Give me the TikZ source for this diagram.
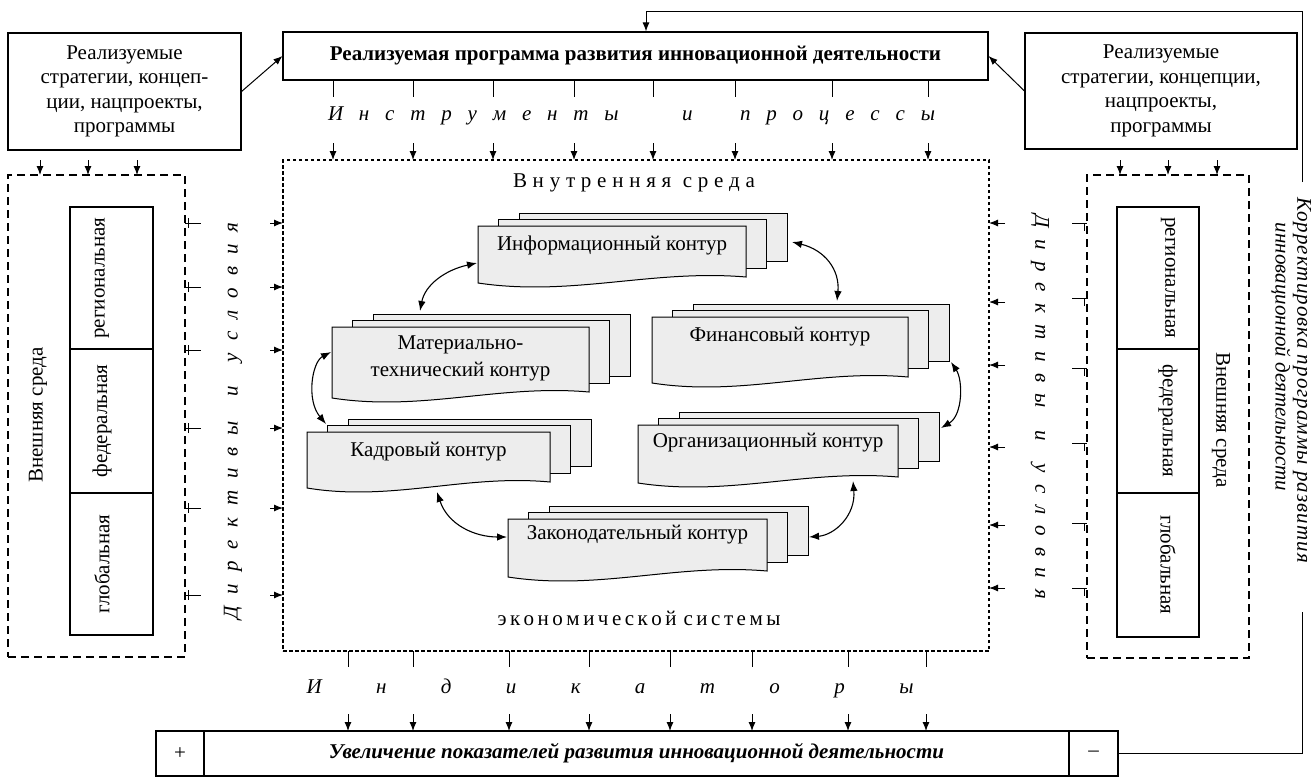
\documentclass[tikz,border=0pt]{standalone}
\usepackage{fontspec}
\setmainfont{Liberation Serif}
\usetikzlibrary{arrows.meta}
\newcommand\kontur[7]{%
\begin{scope}[shift={(#2,#3)}]
\filldraw[sheet] (41,-13) rectangle ({41+#4},{#5-22});
\filldraw[sheet] (20.5,-6.5) rectangle ({20.5+#4},{#5-15});
\filldraw[sheet] (0,0) -- (#4,0) -- (#4,{#5-6}) .. controls ({0.65*#4},{#5-14}) and ({0.35*#4},{#5+14}) .. (0,#5) -- cycle;
\node[ktext] (#1) at ({#4/2},#6) {#7};
\end{scope}}
\begin{document}
\begin{tikzpicture}[x=1pt,y=-1pt,
  every node/.style={font=\fontsize{21}{24.5}\selectfont},
  box/.style={draw,line width=1.1pt,inner sep=0pt,align=center},
  sidebox/.style={draw,line width=1.1pt,dash pattern=on 8pt off 5pt,inner sep=0pt},
  dotbox/.style={draw,line width=1.1pt,dash pattern=on 3.5pt off 2.5pt,inner sep=0pt},
  arr/.style={line width=1pt,-{Latex[length=9pt,width=7pt]}},
  dbl/.style={line width=1.1pt,{Latex[length=10pt,width=7.5pt]}-{Latex[length=10pt,width=7.5pt]}},
  sheet/.style={draw,line width=1pt,fill=black!7},
  ktext/.style={align=center,inner sep=0pt},
  stub/.style={line width=1pt},
  itl/.style={font=\fontsize{21}{24.5}\selectfont\itshape},
]
\useasboundingbox (0,0) rectangle (1313,779);
\fill[white] (0,0) rectangle (1313,779);

% top boxes
\node[box,minimum width=233pt,minimum height=117pt] (lprog) at (124.5,91.5) {Реализуемые\\стратегии, концеп-\\ции, нацпроекты,\\программы};
\node[box,minimum width=705pt,minimum height=48pt,font=\fontsize{21}{24.5}\selectfont\bfseries] (prog) at (635.5,56) {Реализуемая программа развития инновационной деятельности};
\node[box,minimum width=272pt,minimum height=116pt] (rprog) at (1161,91) {Реализуемые\\стратегии, концепции,\\нацпроекты,\\программы};
\draw[arr] (lprog.east) -- (prog.west);
\draw[arr] (rprog.west) -- (prog.east);

% central box
\node[dotbox,minimum width=706pt,minimum height=491pt] (cbox) at (636,405.5) {};
\node (intl) at (634,183) {\makebox[242pt][s]{В н у т р е н н я я\ \ с р е д а}};
\node (econ) at (631,618) {\makebox[267pt][s]{э к о н о м и ч е с к о й\ \ с и с т е м ы}};

% instruments
\foreach \x in {333,413,493,574,653,735,832,928} {
  \draw[stub] (\x,80) -- (\x,97);
  \draw[arr] (\x,143) -- (\x,160);
}
\node[itl] (instr) at (631.5,116) {\makebox[607pt][s]{И н с т р у м е н т ы\ \ \ \ и\ \ \ п р о ц е с с ы}};

% indicators
\foreach \x in {348,413,509,589,670,752,848,926} {
  \draw[stub] (\x,651) -- (\x,667);
  \draw[arr] (\x,714) -- (\x,731);
}
\node[itl] (indic) at (610,688) {\makebox[607pt][s]{И н д и к а т о р ы}};

% bottom result box
\node[box,minimum width=48pt,minimum height=45pt] (plus) at (180,753.5) {+};
\node[box,minimum width=865pt,minimum height=45pt,font=\fontsize{21}{24.5}\selectfont\bfseries\itshape] (resm) at (636.5,753.5) {Увеличение показателей развития инновационной деятельности};
\node[box,minimum width=49pt,minimum height=45pt] (minus) at (1093.5,753.5) {–};

% feedback
\draw[line width=1pt] (minus.east) -- (1302,753.5) -- (1302,612);
\draw[arr] (1302,182) -- (1302,11) -- (646,11) -- (prog.north -| 646,0);
\node[itl,rotate=-90,inner sep=0pt] (korr1) at (1302,380) {\addfontfeatures{LetterSpace=5}Корректировка программы развития};
\node[itl,rotate=-90,inner sep=0pt] (korr2) at (1281,357) {инновационной деятельности};

% left environment
\node[sidebox,minimum width=177pt,minimum height=482pt] (lenv) at (96.5,416) {};
\node[box,minimum width=83pt,minimum height=142pt] (lreg) at (111.5,278) {};
\node[box,minimum width=83pt,minimum height=144pt] (lfed) at (111.5,421) {};
\node[box,minimum width=83pt,minimum height=142pt] (lglob) at (111.5,564) {};
\node[rotate=90] (lregt) at (102,278) {региональная};
\node[rotate=90] (lfedt) at (102,421) {федеральная};
\node[rotate=90] (lglobt) at (102,564) {глобальная};
\node[rotate=90] (lenvt) at (38,415) {Внешняя среда};
\foreach \x in {40,88,137} \draw[arr] (\x,160) -- (\x,175);
\foreach \y in {223,287,350,428,508,595} {
  \draw[stub] (185,\y) -- (201,\y);
  \draw[stub] (188,{\y-5}) -- (188,{\y+5});
  \draw[arr] (270,\y) -- (283,\y);
}
\node[itl,rotate=90] (ldir) at (233,421) {\makebox[397pt][s]{Д и р е к т и в ы\ \ и\ \ у с л о в и я}};

% right environment
\node[sidebox,minimum width=162pt,minimum height=483pt] (renv) at (1168,416.5) {};
\node[box,minimum width=82pt,minimum height=142pt] (rreg) at (1158,278) {};
\node[box,minimum width=82pt,minimum height=144pt] (rfed) at (1158,421) {};
\node[box,minimum width=82pt,minimum height=144pt] (rglob) at (1158,565) {};
\node[rotate=-90] (rregt) at (1168,278) {региональная};
\node[rotate=-90] (rfedt) at (1168,421) {федеральная};
\node[rotate=-90] (rglobt) at (1168,565) {глобальная};
\node[rotate=-90] (renvt) at (1221,420) {Внешняя среда};
\foreach \x in {1120,1168,1217} \draw[arr] (\x,160) -- (\x,175);
\foreach \y in {223,298,368,443,523,588} {
  \draw[stub] (1072,\y) -- (1087,\y);
  \draw[stub] (1084,\y) -- (1084,{\y+8});
}
\foreach \y in {223,302,365,447,525,588} \draw[arr] (1005,\y) -- (989,\y);
\node[itl,rotate=-90] (rdir) at (1040,407) {\makebox[385pt][s]{Д и р е к т и в ы\ \ и\ \ у с л о в и я}};

% contours
\kontur{info}{478}{226}{268}{57}{19}{Информационный контур}
\kontur{mat}{332}{327}{257}{71}{31.5}{Материально-\\[2pt]технический контур}
\kontur{fin}{652}{317}{256}{66}{20}{Финансовый контур}
\kontur{kadr}{307}{432}{243}{56}{20}{Кадровый контур}
\kontur{zak}{508}{519}{259}{58}{16}{Законодательный контур}
\kontur{org}{638}{425}{260}{58}{18}{Организационный контур}

\draw[dbl] (477,263) .. controls (445,270) and (425,285) .. (420,311);
\draw[dbl] (792,242) .. controls (825,250) and (840,270) .. (837,301);
\draw[dbl] (331,352) .. controls (312,362) and (306,400) .. (326,424);
\draw[dbl] (951,362) .. controls (963,380) and (963,415) .. (941,428);
\draw[dbl] (437,492) .. controls (448,525) and (475,537) .. (507,537);
\draw[dbl] (853,481) .. controls (856,515) and (835,535) .. (809,537);
\end{tikzpicture}
\end{document}
